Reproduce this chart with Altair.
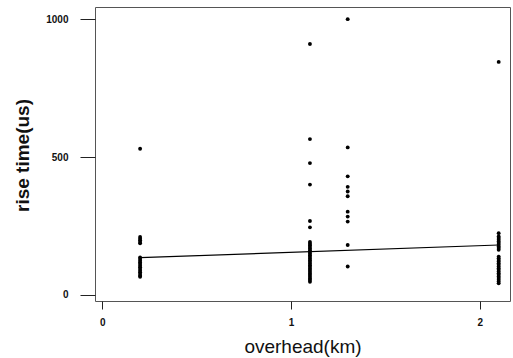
import altair as alt
import pandas as pd

# overhead distance (km) categories and measured rise times (us)
overhead_km = [0.2, 1.1, 1.3, 2.1]
rise_02 = [530, 210, 204, 198, 192, 187, 136, 130, 124, 118, 112, 106, 100,
           94, 88, 82, 76, 70, 66]
rise_11 = [910, 565, 478, 400, 268, 245, 192, 186, 180, 174, 168, 162, 156,
           150, 144, 138, 132, 126, 120, 114, 108, 102, 96, 90, 84, 78, 72,
           66, 60, 54, 48]
rise_13 = [1000, 535, 430, 392, 375, 358, 302, 284, 266, 181, 103]
rise_21 = [845, 224, 212, 206, 200, 194, 188, 182, 176, 170, 164, 139, 133,
           127, 121, 115, 109, 103, 97, 91, 85, 79, 73, 67, 61, 55, 49, 42]

# fitted line endpoints
fit_x = [0.2, 2.1]
fit_y = [135, 181]

x_ticks = [0, 1, 2]
y_ticks = [0, 500, 1000]

rows = []
for xv, ys in zip(overhead_km, [rise_02, rise_11, rise_13, rise_21]):
    for yv in ys:
        rows.append({"x": xv, "y": yv})
pts = pd.DataFrame(rows)
fit = pd.DataFrame({"x": fit_x, "y": fit_y})

font = "Liberation Sans"

xscale = alt.Scale(domain=[-0.039, 2.16], nice=False, zero=False)
yscale = alt.Scale(domain=[-22, 1044], nice=False, zero=False)

xaxis = alt.Axis(
    title="overhead(km)", values=x_ticks, format="d", domain=False, grid=False,
    tickSize=8, tickColor="#222", labelPadding=8, labelFontSize=10,
    labelFontWeight="bold", labelFont=font, labelColor="#111",
    titleFont=font, titleFontSize=19, titleFontWeight="normal",
    titleColor="#111", titleBaseline="alphabetic", titleY=51,
)
yaxis = alt.Axis(
    title="rise time(us)", values=y_ticks, format="d", domain=False, grid=False,
    tickSize=15, tickColor="#222", labelPadding=12, labelFontSize=10,
    labelFontWeight="bold", labelFont=font, labelColor="#111",
    titleFont=font, titleFontSize=19, titleFontWeight="bold",
    titleColor="#111", titleBaseline="alphabetic", titleAngle=-90,
    titleX=-67, titleY=148,
)

points = alt.Chart(pts).mark_circle(size=15, color="black", opacity=1).encode(
    x=alt.X("x:Q", scale=xscale, axis=xaxis),
    y=alt.Y("y:Q", scale=yscale, axis=yaxis),
)
line = alt.Chart(fit).mark_line(color="black", strokeWidth=1.2).encode(
    x=alt.X("x:Q", scale=xscale),
    y=alt.Y("y:Q", scale=yscale),
)

chart = (points + line).properties(
    width=415, height=294,
    autosize=alt.AutoSizeParams(type="none"),
    padding={"left": 95, "top": 7, "right": 3, "bottom": 57},
    background="white",
).configure_view(stroke="#555", strokeWidth=1)

chart.save("out.html", embed_options={"renderer": "svg", "actions": False})
